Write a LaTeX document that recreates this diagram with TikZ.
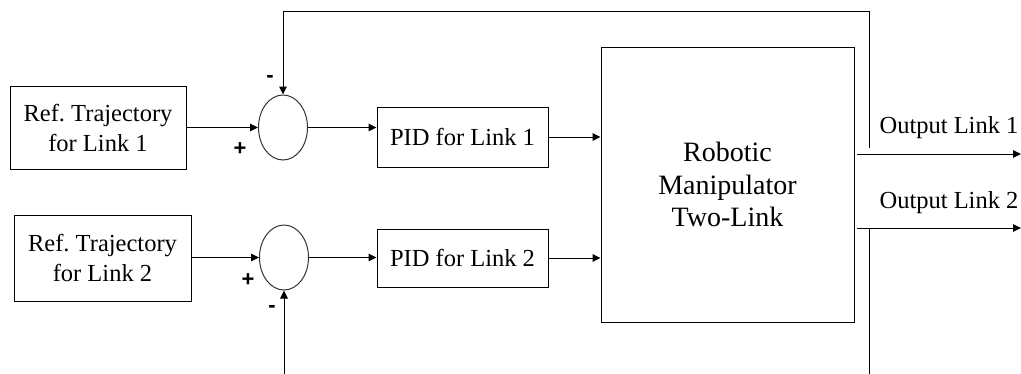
\documentclass[tikz,border=0pt]{standalone}
\usepackage{fontspec}
\setmainfont{Liberation Serif}
\newfontfamily\signfont{Liberation Sans}
\usetikzlibrary{arrows.meta,shapes.geometric,calc}
\frenchspacing

\tikzset{
  blockbox/.style={draw=black, line width=1pt, inner sep=0pt, align=center,
                   font=\fontsize{24.5}{30}\selectfont},
  sumnode/.style={draw=black!80, line width=1pt, ellipse, inner sep=0pt,
                  minimum width=49pt, minimum height=65pt},
  arr/.style={line width=1pt, -{Triangle[length=8pt,width=7.5pt]}},
  wire/.style={line width=1pt},
  sign/.style={font=\signfont\bfseries\fontsize{22}{22}\selectfont, inner sep=0pt},
  outlabel/.style={font=\fontsize{24.5}{30}\selectfont, inner sep=0pt}
}

\begin{document}
\begin{tikzpicture}[x=1pt, y=-1pt]
  \clip (0,0) rectangle (1021,373);
  \fill[white] (0,0) rectangle (1021,373);

  % reference and controller blocks
  \node[blockbox, minimum width=176pt, minimum height=83pt] (ref1) at (98,127.5)
       {Ref. Trajectory\\for Link 1};
  \node[blockbox, minimum width=177pt, minimum height=86pt] (ref2) at (102.5,258)
       {Ref. Trajectory\\for Link 2};
  \node[sumnode] (c1) at (283,127.5) {};
  \node[sumnode] (c2) at (284,257.5) {};
  \node[blockbox, minimum width=171pt, minimum height=60pt] (pid1) at (462.5,137)
       {PID for Link 1};
  \node[blockbox, minimum width=171pt, minimum height=58pt] (pid2) at (462.5,258)
       {PID for Link 2};
  \node[blockbox, minimum width=253pt, minimum height=275pt,
        font=\fontsize{28}{32.5}\selectfont] (robot) at (727.5,184.5)
       {Robotic\\Manipulator\\Two-Link};

  % forward path
  \draw[arr] (ref1.east |- c1.west) -- (c1.west);
  \draw[arr] (ref2.east |- c2.west) -- (c2.west);
  \draw[arr] (c1.east) -- (c1.east -| pid1.west);
  \draw[arr] (c2.east) -- (c2.east -| pid2.west);
  \draw[arr] (pid1.east) -- (pid1.east -| robot.west);
  \draw[arr] (pid2.east) -- (pid2.east -| robot.west);

  % outputs
  \coordinate (o1) at (1021,154);
  \coordinate (o2) at (1021,228);
  \draw[arr] ([xshift=2pt]robot.east |- o1) -- (o1);
  \draw[arr] ([xshift=2pt]robot.east |- o2) -- (o2);
  \node[outlabel] (lo1) at (949,128) {Output Link 1};
  \node[outlabel] (lo2) at (949,203) {Output Link 2};

  % feedback loops
  \coordinate (fb1) at (869,148);
  \coordinate (fbtop) at (869,11);
  \coordinate (fb2) at (869,228);
  \coordinate (fbbot) at (869,380);
  \draw[arr] (fb1) -- (fbtop) -| (c1.north);
  \draw[arr] (fb2) -- (fbbot) -| (c2.south);

  % summing junction signs
  \node[sign] (m1) at (270,79) {-};
  \node[sign] (p1) at (240,149) {+};
  \node[sign] (p2) at (248,280) {+};
  \node[sign] (m2) at (272,309) {-};
\end{tikzpicture}
\end{document}
